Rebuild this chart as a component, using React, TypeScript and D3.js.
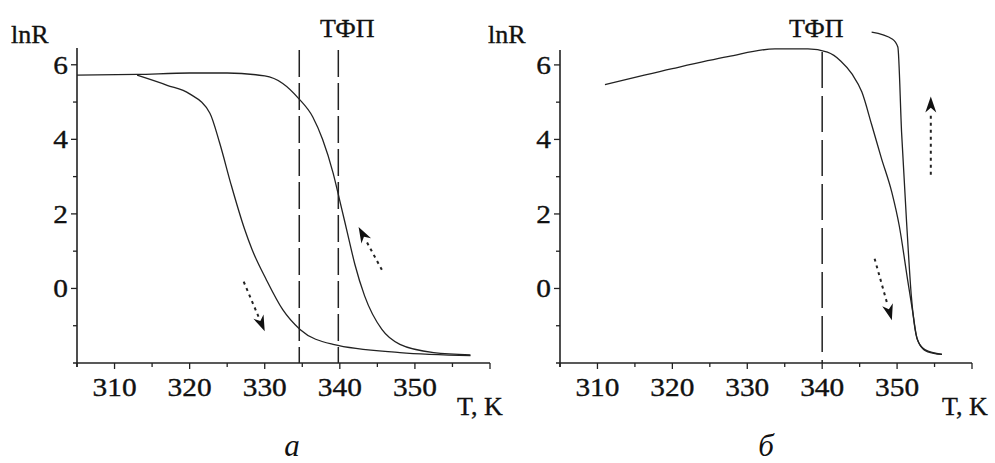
import React from "react";
import { scaleLinear, line, curveMonotoneX, range } from "d3";

// panel а: heating and cooling curves, T in K, lnR
const heatA_T = [305, 313, 320, 325, 330, 332.4, 334.5, 336.4, 337.7, 339.1, 340, 341, 342, 343.3, 345.6, 348, 352.5, 357.4];
const heatA_R = [5.72, 5.74, 5.78, 5.78, 5.7, 5.5, 5.1, 4.6, 4.0, 3.1, 2.35, 1.5, 0.65, -0.2, -1.1, -1.5, -1.72, -1.78];
const coolA_T = [313, 317, 320, 322.7, 324, 325.5, 327.3, 328.3, 330.2, 332.4, 334.7, 339.1, 348, 357.4];
const coolA_R = [5.72, 5.45, 5.22, 4.7, 3.9, 2.8, 1.6, 1.05, 0.24, -0.57, -1.1, -1.5, -1.72, -1.8];

// panel б
const heatB_T = [311, 320, 327.4, 333.7, 338.1, 340.7, 342.5, 344, 345.3, 346.6, 347.9, 349.3, 350.3, 351.4, 352.1, 352.7, 353.7, 356];
const heatB_R = [5.47, 5.9, 6.22, 6.43, 6.43, 6.34, 6.1, 5.75, 5.27, 4.4, 3.5, 2.58, 1.67, 0.24, -0.65, -1.37, -1.64, -1.77];
const coolB_T = [346.6, 349.4, 350.1, 350.6, 351.3, 351.9, 352.4, 353, 354.1, 356];
const coolB_R = [6.88, 6.69, 6.48, 4.19, 1.67, -0.2, -1.1, -1.5, -1.7, -1.77];

const xTicks = [310, 320, 330, 340, 350];
const yTicks = [0, 2, 4, 6];
const phaseA = [334.6, 339.8];
const phaseB = [340];

// arrows as [T0, lnR0, T1, lnR1]
const arrowsA = [
  [327.2, 0.18, 330, -1.15],
  [345.6, 0.5, 342.5, 1.65],
];
const arrowsB = [
  [354.5, 3.05, 354.5, 5.15],
  [347, 0.8, 349.3, -0.85],
];

const font = "'Times New Roman', 'Liberation Serif', 'DejaVu Serif', serif";

type PanelProps = {
  x0: number;
  x1: number;
  yTop: number;
  yMax: number;
  curves: [number[], number[]][];
  phase: number[];
  dash: string;
  arrows: number[][];
  lnRx: number;
  tfpX: number;
  tkX: number;
  letter: string;
  letterX: number;
};

const Panel = (p: PanelProps) => {
  const x = scaleLinear().domain([305, 360]).range([p.x0, p.x1]);
  const y = scaleLinear().domain([-2, p.yMax]).range([363, p.yTop]);
  const path = line<[number, number]>()
    .x((d) => x(d[0]))
    .y((d) => y(d[1]))
    .curve(curveMonotoneX);

  return (
    <g style={{ fontFamily: font }} fill="#111">
      {/* axes */}
      <line x1={x(305) - 4} x2={x(360)} y1={y(-2)} y2={y(-2)} stroke="#222" strokeWidth={1.6} />
      <line x1={x(305)} x2={x(305)} y1={y(-2) + 4} y2={p.yTop} stroke="#222" strokeWidth={1.6} />
      {range(305, 361, 5).map((t) => (
        <line key={"xt" + t} x1={x(t)} x2={x(t)} y1={y(-2)} y2={y(-2) + (t % 10 === 0 ? 6 : 4)} stroke="#222" strokeWidth={1.3} />
      ))}
      {range(-1, 7, 1).map((v) => (
        <line key={"yt" + v} x1={x(305) - (v % 2 === 0 ? 6 : 4)} x2={x(305)} y1={y(v)} y2={y(v)} stroke="#222" strokeWidth={1.3} />
      ))}
      <g stroke="#111" strokeWidth={0.35}>
        {xTicks.map((t) => (
          <text key={"xl" + t} transform={`translate(${x(t)},396) scale(1.13,1)`} fontSize={26} textAnchor="middle">
            {t}
          </text>
        ))}
        {yTicks.map((v) => (
          <text key={"yl" + v} transform={`translate(${x(305) - 9},${y(v) + 9}) scale(1.13,1)`} fontSize={26} textAnchor="end">
            {v}
          </text>
        ))}
        <text x={p.lnRx} y={43} fontSize={26}>lnR</text>
        <text x={p.tfpX} y={37} fontSize={26}>ТФП</text>
        <text x={p.tkX} y={415} fontSize={26}>T, K</text>
      </g>
      {/* phase transition lines */}
      {p.phase.map((t) => (
        <line key={"ph" + t} x1={x(t)} x2={x(t)} y1={p.yTop + 2} y2={y(-2)} stroke="#222" strokeWidth={1.5} strokeDasharray={p.dash} />
      ))}
      {/* curves */}
      {p.curves.map(([ts, rs], i) => (
        <path
          key={"c" + i}
          d={path(ts.map((t, j) => [t, rs[j]] as [number, number])) || ""}
          fill="none"
          stroke="#222"
          strokeWidth={1.3}
        />
      ))}
      {/* arrows */}
      {p.arrows.map((a, i) => {
        const ax0 = x(a[0]);
        const ay0 = y(a[1]);
        const ax1 = x(a[2]);
        const ay1 = y(a[3]);
        const ang = Math.atan2(ay1 - ay0, ax1 - ax0);
        const hl = 16;
        const hw = 5.5;
        const bx = ax1 - hl * Math.cos(ang);
        const by = ay1 - hl * Math.sin(ang);
        const nx = -Math.sin(ang) * hw;
        const ny = Math.cos(ang) * hw;
        return (
          <g key={"a" + i}>
            <line x1={ax0} y1={ay0} x2={bx} y2={by} stroke="#222" strokeWidth={2} strokeDasharray="3,4" />
            <polygon points={`${ax1},${ay1} ${bx + nx},${by + ny} ${bx + 0.3 * hl * Math.cos(ang)},${by + 0.3 * hl * Math.sin(ang)} ${bx - nx},${by - ny}`} fill="#111" />
          </g>
        );
      })}
      <text x={p.letterX} y={456} fontSize={31} fontStyle="italic" textAnchor="middle">
        {p.letter}
      </text>
    </g>
  );
};

const App = () => {
  return (
    <svg width={995} height={463} style={{ position: "absolute", left: 0, top: 0, background: "#fff" }}>
      <rect width={995} height={463} fill="#fff" />
      <Panel
        x0={77}
        x1={490}
        yTop={48}
        yMax={6.45}
        curves={[
          [heatA_T, heatA_R],
          [coolA_T, coolA_R],
        ]}
        phase={phaseA}
        dash="27,6"
        arrows={arrowsA}
        lnRx={11}
        tfpX={320}
        tkX={457}
        letter="а"
        letterX={292}
      />
      <Panel
        x0={560}
        x1={972}
        yTop={50}
        yMax={6.4}
        curves={[
          [heatB_T, heatB_R],
          [coolB_T, coolB_R],
        ]}
        phase={phaseB}
        dash="36,8"
        arrows={arrowsB}
        lnRx={488}
        tfpX={789}
        tkX={942}
        letter="б"
        letterX={766}
      />
    </svg>
  );
};

export default App;
